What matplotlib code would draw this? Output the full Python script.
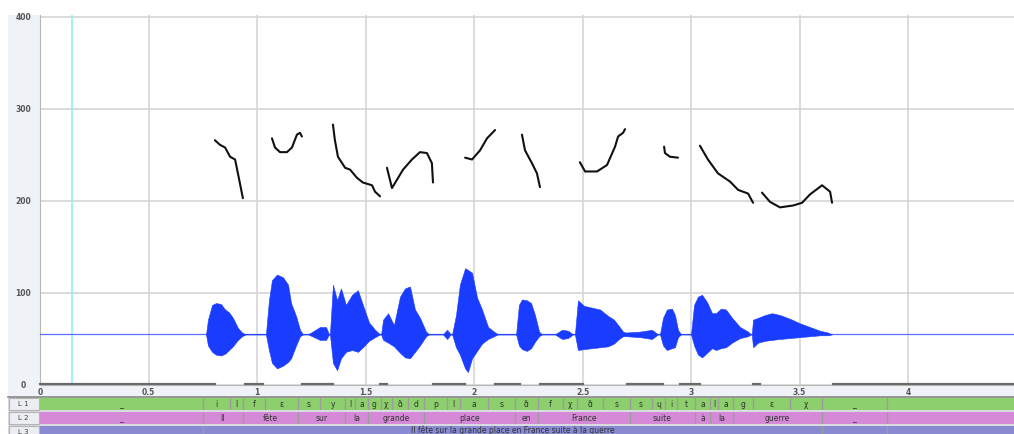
import matplotlib
matplotlib.use("Agg")
import matplotlib.pyplot as plt
from matplotlib.patches import Rectangle
import numpy as np

# --- pitch contour (s, Hz), one list per voiced stretch ---
pitch_t = [
    [0.806, 0.829, 0.853, 0.876, 0.899, 0.912, 0.935],
    [1.069, 1.083, 1.106, 1.138, 1.161, 1.184, 1.198, 1.207],
    [1.350, 1.359, 1.373, 1.406, 1.429, 1.461, 1.488, 1.530, 1.544, 1.567],
    [1.599, 1.622, 1.645, 1.673, 1.714, 1.751, 1.783, 1.806, 1.811],
    [1.959, 1.991, 2.028, 2.060, 2.097],
    [2.221, 2.235, 2.267, 2.290, 2.304],
    [2.488, 2.512, 2.567, 2.613, 2.650, 2.664, 2.687, 2.696],
    [2.876, 2.880, 2.903, 2.940],
    [3.041, 3.078, 3.124, 3.180, 3.217, 3.263, 3.286],
    [3.327, 3.364, 3.410, 3.470, 3.512, 3.548, 3.604, 3.641, 3.650],
]
pitch_hz = [
    [266, 261, 258, 248, 245, 230, 203],
    [268, 258, 253, 253, 258, 272, 274, 270],
    [283, 266, 248, 236, 234, 225, 220, 217, 210, 205],
    [236, 214, 223, 234, 245, 253, 252, 241, 220],
    [247, 245, 255, 268, 277],
    [272, 255, 241, 230, 215],
    [242, 232, 232, 239, 259, 270, 274, 278],
    [259, 252, 248, 247],
    [260, 245, 230, 221, 212, 208, 198],
    [209, 199, 193, 195, 198, 207, 217, 210, 198],
]

# --- waveform envelope, drawn around its zero line ---
wave_zero = 55
wave_t = [
    0.765, 0.774, 0.793, 0.811, 0.834, 0.853, 0.871, 0.889, 0.912, 0.931, 0.949,
    1.041, 1.055, 1.069, 1.092, 1.120, 1.143, 1.157, 1.180, 1.198, 1.212,
    1.235, 1.263, 1.290, 1.318, 1.332,
    1.336, 1.350, 1.369, 1.387, 1.410, 1.438, 1.465, 1.488, 1.516, 1.544, 1.567,
    1.572, 1.581, 1.604, 1.631, 1.659, 1.682, 1.705, 1.728, 1.751, 1.779, 1.793,
    1.857, 1.876, 1.893,
    1.899, 1.917, 1.935, 1.959, 1.972, 1.991, 2.014, 2.037, 2.065, 2.092, 2.111,
    2.194, 2.207, 2.221, 2.244, 2.263, 2.281, 2.300, 2.313,
    2.373, 2.406, 2.433, 2.456,
    2.465, 2.479, 2.507, 2.544, 2.581, 2.618, 2.645, 2.668, 2.687, 2.700,
    2.765, 2.820, 2.848,
    2.857, 2.871, 2.889, 2.912, 2.926, 2.940, 2.954,
    3.000, 3.014, 3.032, 3.051, 3.074, 3.097, 3.115, 3.138, 3.161, 3.189, 3.226, 3.263, 3.276,
    3.280, 3.286, 3.309, 3.341, 3.373, 3.410, 3.456, 3.502, 3.548, 3.594, 3.631, 3.650,
]
wave_hi = [
    55, 71, 87, 89, 88, 82, 79, 73, 62, 57, 55,
    55, 92, 114, 120, 117, 109, 89, 75, 60, 55,
    55, 59, 63, 63, 55,
    55, 109, 92, 105, 87, 98, 103, 87, 68, 60, 55,
    55, 71, 78, 65, 96, 105, 107, 82, 73, 58, 55,
    55, 60, 55,
    55, 76, 109, 127, 125, 122, 95, 82, 63, 58, 55,
    55, 87, 93, 92, 89, 76, 58, 55,
    55, 60, 59, 55,
    55, 92, 86, 84, 82, 75, 71, 64, 58, 57,
    58, 60, 55,
    55, 73, 82, 83, 76, 60, 55,
    55, 87, 96, 98, 90, 78, 78, 83, 82, 73, 63, 58, 55,
    55, 71, 73, 76, 78, 76, 72, 67, 63, 59, 57, 55,
]
wave_lo = [
    55, 43, 36, 33, 32, 34, 38, 42, 49, 53, 55,
    55, 38, 24, 18, 21, 25, 29, 43, 53, 55,
    55, 52, 49, 49, 55,
    55, 24, 16, 29, 36, 38, 36, 41, 48, 52, 55,
    55, 49, 46, 42, 35, 30, 29, 36, 43, 53, 55,
    55, 50, 55,
    55, 41, 33, 18, 14, 29, 37, 45, 50, 53, 55,
    55, 43, 39, 37, 40, 47, 53, 55,
    55, 50, 51, 55,
    55, 38, 39, 40, 41, 42, 45, 50, 53, 53,
    52, 50, 55,
    55, 43, 38, 40, 41, 52, 55,
    55, 43, 33, 30, 35, 40, 38, 40, 41, 46, 51, 53, 55,
    55, 41, 46, 48, 49, 50, 51, 52, 53, 54, 54, 55,
]

# stretches without pitch, marked on the time axis
unvoiced = [(0.0, 0.806), (0.945, 1.028), (1.207, 1.350), (1.567, 1.599),
            (1.811, 1.959), (2.097, 2.212), (2.304, 2.502), (2.705, 2.871),
            (2.949, 3.041), (3.286, 3.318), (3.654, 4.484)]

cursor_t = 0.147

# --- annotation tiers ---
phone_bounds = [0.0, 0.751, 0.876, 0.935, 1.037, 1.189, 1.290, 1.406, 1.452,
                1.512, 1.571, 1.622, 1.696, 1.770, 1.876, 1.935, 2.065, 2.189,
                2.295, 2.410, 2.475, 2.594, 2.719, 2.820, 2.880, 2.935, 3.018,
                3.088, 3.124, 3.194, 3.286, 3.456, 3.604, 3.903]
phones = ["_", "i", "l", "f", "ɛ", "s", "y", "l", "a", "g", "χ", "ɑ̃", "d",
          "p", "l", "a", "s", "ɑ̃", "f", "χ", "ɑ̃", "s", "s", "ɥ", "i", "t",
          "a", "l", "a", "g", "ɛ", "χ", "_", ""]
word_bounds = [0.0, 0.751, 0.935, 1.189, 1.406, 1.512, 1.770, 2.189, 2.295,
               2.719, 3.018, 3.088, 3.194, 3.604, 3.903]
words = ["_", "Il", "fête", "sur", "la", "grande", "place", "en", "France",
         "suite", "à", "la", "guerre", "_", ""]
sent_bounds = [0.0, 0.751, 3.604, 3.903]
sentences = ["", "Il fête sur la grande place en France suite à la guerre", "", ""]

tier_names = ["L 1", "L 2", "L 3"]
tier_colors = ["#8ccf6c", "#d48ad6", "#8a8ad2"]

W, H = 1014, 434
T_MAX = 1000 / 217.0


def rect(x0, y0, x1, y1):
    return [x0 / W, 1 - y1 / H, (x1 - x0) / W, (y1 - y0) / H]


fig = plt.figure(figsize=(W / 100, H / 100), dpi=100)
fig.patch.set_facecolor("white")

# window chrome behind everything
bg = fig.add_axes([0, 0, 1, 1], zorder=-5)
bg.set_xlim(0, W)
bg.set_ylim(H, 0)
bg.axis("off")
bg.add_patch(Rectangle((8, 15), 32, 370, color="#eff2f7", lw=0))
bg.add_patch(Rectangle((8, 385), W, 11, color="#eff2f7", lw=0))
bg.add_patch(Rectangle((8, 396), W, 40, color="#d9dbe0", lw=0))
bg.plot([8, W], [396.5, 396.5], color="#8a8a8a", lw=1.2)
for i, name in enumerate(tier_names):
    y0 = 398 + i * 14
    bg.add_patch(Rectangle((9, y0), 30, 12, facecolor="#eceef2",
                           edgecolor="#b4b4b4", lw=0.8))
    bg.text(23, y0 + 6, name, ha="center", va="center", fontsize=5,
            color="#444444")

# pitch + waveform panel
ax = fig.add_axes(rect(40, 15, 1040, 385))
ax.set_xlim(0, T_MAX)
ax.set_ylim(0, 402)
ax.set_facecolor("white")
ax.set_xticks(np.arange(0, 4.01, 0.5))
ax.set_xticklabels(["0", "0.5", "1", "1.5", "2", "2.5", "3", "3.5", "4"])
ax.set_yticks([0, 100, 200, 300, 400])
ax.grid(True, color="#d2d2d2", lw=1.1)
ax.set_axisbelow(True)
ax.tick_params(length=0, labelsize=5.5, labelcolor="#555555")
ax.tick_params(axis="y", pad=12)
ax.tick_params(axis="x", pad=2)
for lab in ax.get_yticklabels():
    lab.set_ha("center")
    lab.set_fontweight("bold")
for lab in ax.get_xticklabels():
    lab.set_fontweight("bold")
for side in ["top", "right"]:
    ax.spines[side].set_visible(False)
ax.spines["left"].set_color("#b8b8b8")
ax.spines["bottom"].set_color("#b8b8b8")

ax.axvline(cursor_t, color="#8ef2f4", lw=1.2, zorder=2)
ax.axhline(wave_zero, color="#5d6dff", lw=0.9, zorder=3)
ax.fill_between(wave_t, wave_lo, wave_hi, color="#1a3cff", lw=0.4, zorder=4)
for t, hz in zip(pitch_t, pitch_hz):
    ax.plot(t, hz, color="#111111", lw=1.5, solid_capstyle="round", zorder=5)
for a, b in unvoiced:
    ax.plot([a, b], [1.5, 1.5], color="#6a6a6a", lw=1.6, zorder=6,
            clip_on=False)

# annotation tiers
tiers = [(phone_bounds, phones), (word_bounds, words), (sent_bounds, sentences)]
for i, (bounds, labels) in enumerate(tiers):
    y0 = 398 + i * 14
    tx = fig.add_axes(rect(40, y0, 1040, y0 + 12))
    tx.set_xlim(0, T_MAX)
    tx.set_ylim(0, 1)
    tx.set_facecolor(tier_colors[i])
    tx.set_xticks([])
    tx.set_yticks([])
    for s in tx.spines.values():
        s.set_visible(False)
    edges = bounds + [T_MAX]
    ty = 0.45 if i < 2 else 0.62
    for k, lab in enumerate(labels):
        if k > 0:
            tx.axvline(edges[k], color="#9c9c9c", lw=1.0)
        if lab:
            tx.text((edges[k] + edges[k + 1]) / 2, ty, lab, ha="center",
                    va="center", fontsize=5.5, color="#333333")

fig.savefig("out.png", dpi=100)
